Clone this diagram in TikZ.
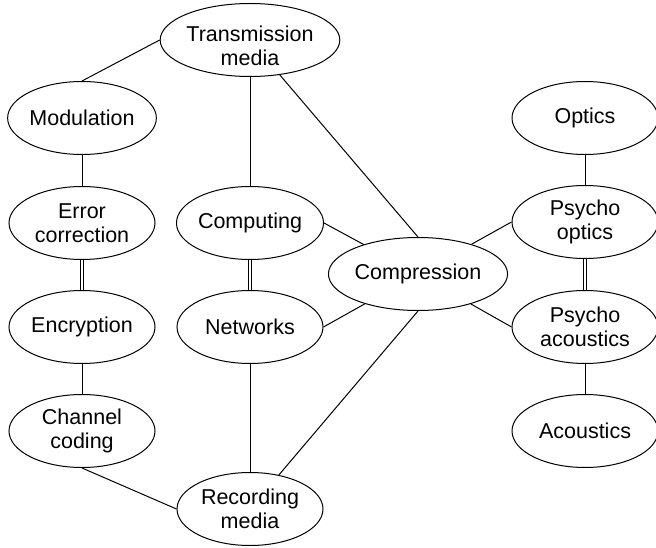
\documentclass[tikz,border=0pt]{standalone}
\usepackage{fontspec}
\setmainfont{Liberation Sans}
\usetikzlibrary{shapes.geometric}
\begin{document}
\begin{tikzpicture}[x=1pt,y=-1pt,
  topic/.style={draw, ellipse, line width=1pt, minimum width=146pt, minimum height=73pt, inner sep=0pt, align=center, font=\fontsize{21.5}{23.5}\selectfont},
  link/.style={line width=1pt},
  dbl/.style={double, line width=0.9pt, double distance=2.4pt}]
\useasboundingbox (0,0) rectangle (656,548);
\node[topic, align=none, text height=30pt, text depth=2.2pt] (trans) at (250,40) {\begin{tabular}{@{}c@{}}Transmission\\media\end{tabular}};
\node[topic] (mod) at (82,118) {Modulation};
\node[topic] (err) at (82,223) {Error\\correction};
\node[topic] (enc) at (82,327) {Encryption};
\node[topic] (cc) at (82,431) {Channel\\coding};
\node[topic] (comp) at (250,223) {Computing};
\node[topic] (net) at (250,327) {Networks};
\node[topic] (rec) at (250,509) {Recording\\media};
\node[topic] (cmp) at (418,274) {Compression};
\node[topic] (opt) at (585,118) {Optics};
\node[topic] (po) at (585,222) {Psycho\\optics};
\node[topic] (pa) at (585,327) {Psycho\\acoustics};
\node[topic] (ac) at (585,431) {Acoustics};
\draw[link] (trans.west) -- (mod.north);
\draw[link] (trans) -- (comp);
\draw[link] (trans) -- (cmp.north);
\draw[link] (mod) -- (err);
\draw[dbl] (err) -- (enc);
\draw[link] (enc) -- (cc);
\draw[link] (cc.south) -- (rec.west);
\draw[dbl] (comp) -- (net);
\draw[link] (net) -- (rec);
\draw[link] (cmp) -- (comp.east);
\draw[link] (cmp) -- (net.east);
\draw[link] (cmp.south) -- (rec);
\draw[link] (cmp) -- (po.west);
\draw[link] (cmp) -- (pa.west);
\draw[link] (opt) -- (po);
\draw[dbl] (po) -- (pa);
\draw[link] (pa) -- (ac);
\end{tikzpicture}
\end{document}
